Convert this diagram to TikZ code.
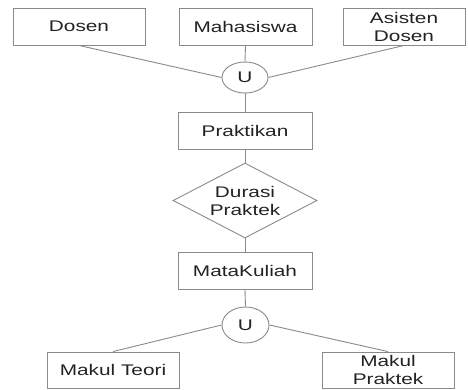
\documentclass[tikz,border=0pt]{standalone}
\usepackage{fontspec}
\newfontfamily\diagfont[FakeStretch=1.35]{Liberation Sans}
\usetikzlibrary{shapes.geometric}
\definecolor{linegray}{HTML}{8A8A8A}
\definecolor{textdark}{HTML}{222222}
\begin{document}
\begin{tikzpicture}[x=1pt,y=-1pt,
  every node/.style={font={\diagfont\fontsize{15.4}{18}\selectfont},text=textdark,align=center,inner sep=0pt},
  entity/.style={draw=linegray,line width=0.9pt,rectangle,minimum height=37pt},
  uni/.style={draw=linegray,line width=0.9pt,ellipse},
  rel/.style={draw=linegray,line width=0.9pt,diamond,aspect=1.92,minimum width=144pt,minimum height=75pt},
  conn/.style={draw=linegray,line width=0.9pt}]
\useasboundingbox (0,0) rectangle (468,389);
\node[entity,minimum width=132pt] (dosen) at (79,26.5) {Dosen};
\node[entity,minimum width=133pt] (mhs) at (245.5,26.5) {Mahasiswa};
\node[entity,minimum width=122pt] (asdos) at (404,26.5) {Asisten\\Dosen};
\node[uni,minimum width=46pt,minimum height=31pt] (u1) at (245,77.5) {U};
\node[entity,minimum width=134pt] (prak) at (245,130.5) {Praktikan};
\node[rel] (durasi) at (245,200.5) {Durasi\\Praktek};
\node[entity,minimum width=134pt] (mk) at (245,270.5) {MataKuliah};
\node[uni,minimum width=47pt,minimum height=36pt] (u2) at (245.5,325) {U};
\node[entity,minimum width=132pt,minimum height=36pt] (teori) at (113,370) {Makul Teori};
\node[entity,minimum width=132pt,minimum height=36pt] (praktek) at (388,370) {Makul\\Praktek};
\draw[conn] (dosen.south) -- (u1.west);
\draw[conn] (mhs.south) -- (u1.north);
\draw[conn] (asdos.south) -- (u1.east);
\draw[conn] (u1.south) -- (prak.north);
\draw[conn] (prak.south) -- (durasi.north);
\draw[conn] (durasi.south) -- (mk.north);
\draw[conn] (mk.south) -- (u2.north);
\draw[conn] (u2.west) -- (teori.north);
\draw[conn] (u2.east) -- (praktek.north);
\end{tikzpicture}
\end{document}
